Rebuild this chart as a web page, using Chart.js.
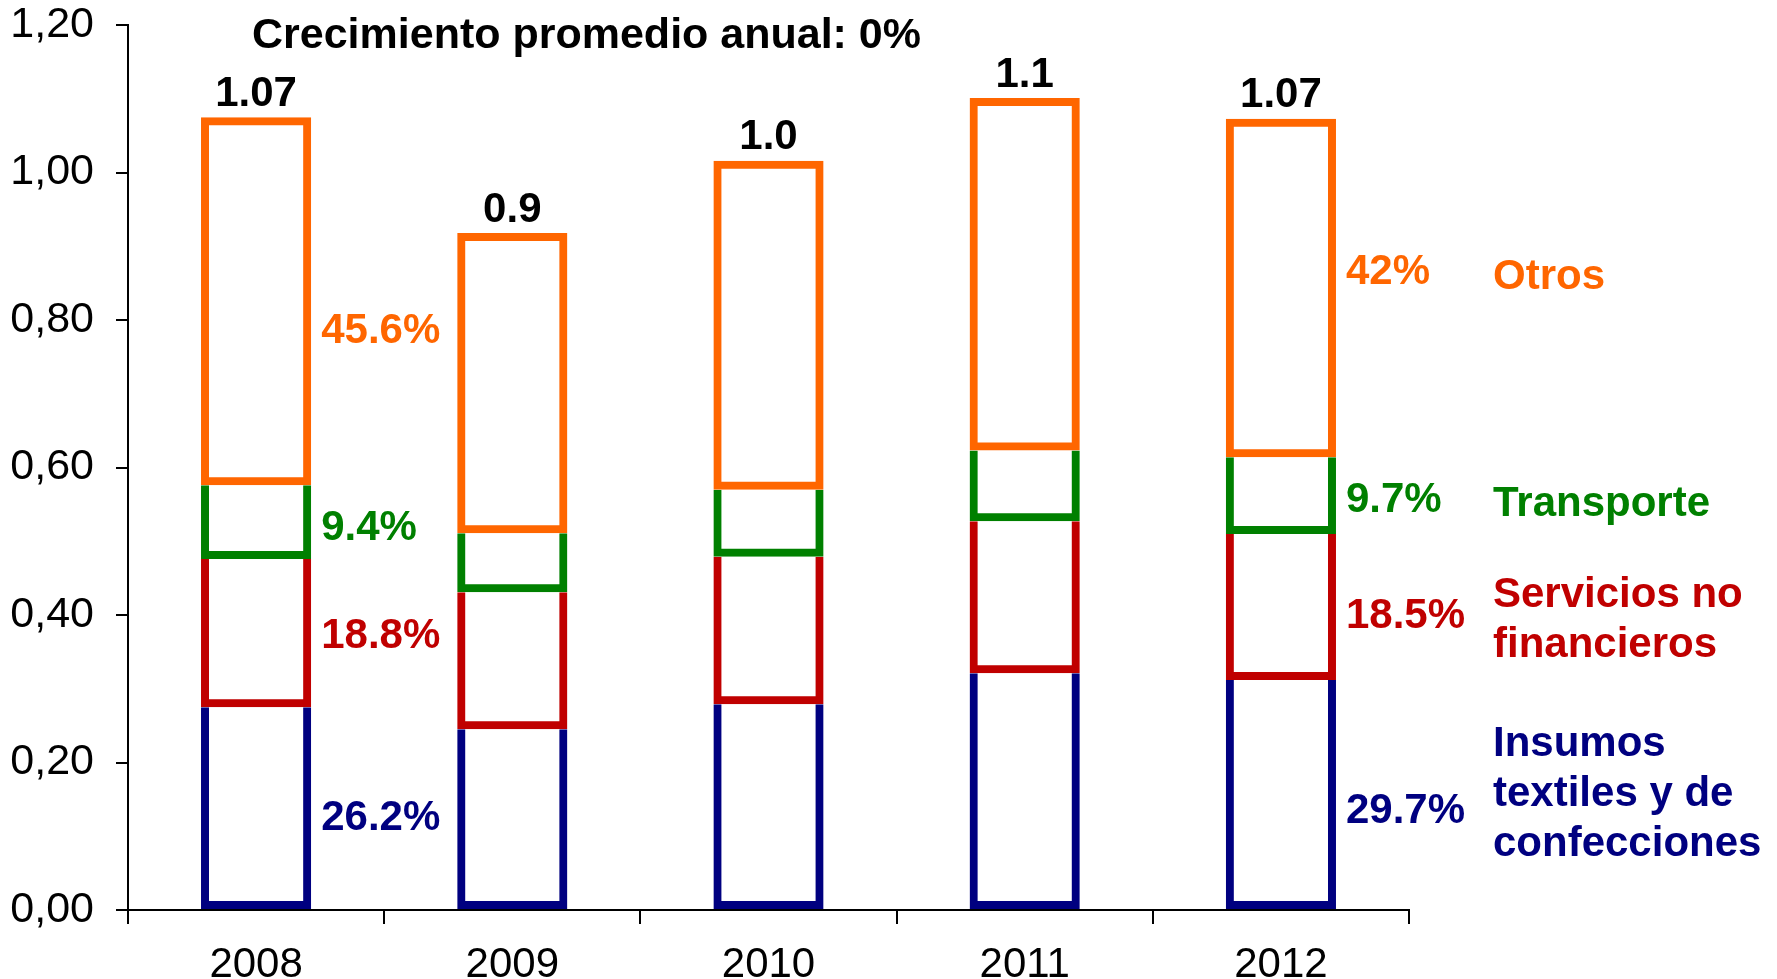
<!DOCTYPE html>
<html>
<head>
<meta charset="utf-8">
<script src="https://cdn.jsdelivr.net/npm/chart.js@4.4.0/dist/chart.umd.min.js"></script>
<style>
  html, body { margin: 0; padding: 0; background: #fff; }
  #wrap { width: 1777px; height: 979px; }
</style>
</head>
<body>
<div id="wrap"><canvas id="myChart"></canvas></div>
<script>
// categories and stacked values
const years = ["2008", "2009", "2010", "2011", "2012"];
const insumos = [0.275, 0.245, 0.279, 0.321, 0.312];
const servicios = [0.201, 0.186, 0.200, 0.206, 0.198];
const transporte = [0.100, 0.080, 0.091, 0.096, 0.104];
const otros = [0.499, 0.407, 0.446, 0.478, 0.459];

// text labels
const totalLabels = ["1.07", "0.9", "1.0", "1.1", "1.07"];
const insumosPct = ["26.2%", "", "", "", "29.7%"];
const serviciosPct = ["18.8%", "", "", "", "18.5%"];
const transportePct = ["9.4%", "", "", "", "9.7%"];
const otrosPct = ["45.6%", "", "", "", "42%"];
const titleText = "Crecimiento promedio anual: 0%";

const FONT = "'Liberation Sans', Arial, sans-serif";

// small vertical nudges (px) for the hand-placed labels: [first bar, last bar, name]
const nudges = [
  [10, 17, 0],
  [3, 10, 14],
  [6, 5, 9],
  [30, -15, -10]
];

function series(name, lines, values, pct, color, skip) {
  return {
    label: name,
    nameLines: lines,
    pct: pct,
    data: values,
    backgroundColor: "rgba(255,255,255,0)",
    borderColor: color,
    borderWidth: 8,
    borderSkipped: skip,
    barPercentage: 0.43,
    categoryPercentage: 1.0
  };
}

const labelsPlugin = {
  id: "barLabels",
  afterDatasetsDraw(chart) {
    const ctx = chart.ctx;
    const area = chart.chartArea;
    ctx.save();
    ctx.textBaseline = "middle";

    // title
    ctx.font = "bold 43px " + FONT;
    ctx.fillStyle = "#000";
    ctx.textAlign = "left";
    ctx.fillText(titleText, area.left + 124, 36);

    ctx.font = "bold 42px " + FONT;
    // totals above the stacks
    const topMeta = chart.getDatasetMeta(chart.data.datasets.length - 1);
    ctx.textAlign = "center";
    topMeta.data.forEach((bar, i) => {
      ctx.fillText(totalLabels[i], bar.x, bar.y - 23);
    });

    chart.data.datasets.forEach((ds, d) => {
      const meta = chart.getDatasetMeta(d);
      const n = meta.data.length;
      ctx.fillStyle = ds.borderColor;
      ctx.textAlign = "left";
      meta.data.forEach((bar, i) => {
        if (!ds.pct[i]) return;
        const dy = i === 0 ? nudges[d][0] : nudges[d][1];
        ctx.fillText(ds.pct[i], bar.x + bar.width / 2 + 10, (bar.y + bar.base) / 2 + dy);
      });
      // series name on the right
      const last = meta.data[n - 1];
      const mid = (last.y + last.base) / 2 + nudges[d][2];
      const lh = 50;
      const y0 = mid - (ds.nameLines.length - 1) * lh / 2;
      ds.nameLines.forEach((t, k) => {
        ctx.fillText(t, area.right + 84, y0 + k * lh);
      });
    });
    ctx.restore();
  }
};

const config = {
  type: "bar",
  data: {
    labels: years,
    datasets: [
      series("Insumos textiles y de confecciones", ["Insumos", "textiles y de", "confecciones"], insumos, insumosPct, "#000080", "top"),
      series("Servicios no financieros", ["Servicios no", "financieros"], servicios, serviciosPct, "#C00000", "top"),
      series("Transporte", ["Transporte"], transporte, transportePct, "#008000", "top"),
      series("Otros", ["Otros"], otros, otrosPct, "#FF6600", false)
    ]
  },
  options: {
    responsive: true,
    maintainAspectRatio: false,
    animation: false,
    layout: {
      padding: { left: 0, right: 368, top: 0, bottom: 0 }
    },
    plugins: {
      legend: { display: false },
      tooltip: { enabled: false },
      title: { display: false }
    },
    scales: {
      x: {
        stacked: true,
        grid: { offset: true, drawOnChartArea: false, tickLength: 14, color: "#000", lineWidth: 2 },
        border: { color: "#000", width: 2 },
        ticks: { color: "#000", padding: 16, font: { family: FONT, size: 42 } },
        afterFit(scale) {
          scale.height = 69;
        }
      },
      y: {
        stacked: true,
        min: 0,
        max: 1.2,
        grid: { drawOnChartArea: false, tickLength: 12, color: "#000", lineWidth: 2 },
        border: { color: "#000", width: 2 },
        ticks: {
          stepSize: 0.2,
          color: "#000",
          padding: 22,
          font: { family: FONT, size: 43 },
          callback: (v) => v.toFixed(2).replace(".", ",")
        },
        afterFit(scale) {
          scale.width = 128;
          scale.paddingTop = 25;
          scale.paddingBottom = 0;
        }
      }
    }
  },
  plugins: [labelsPlugin]
};

const ctx = document.getElementById("myChart").getContext("2d");
new Chart(ctx, config);
</script>
</body>
</html>
